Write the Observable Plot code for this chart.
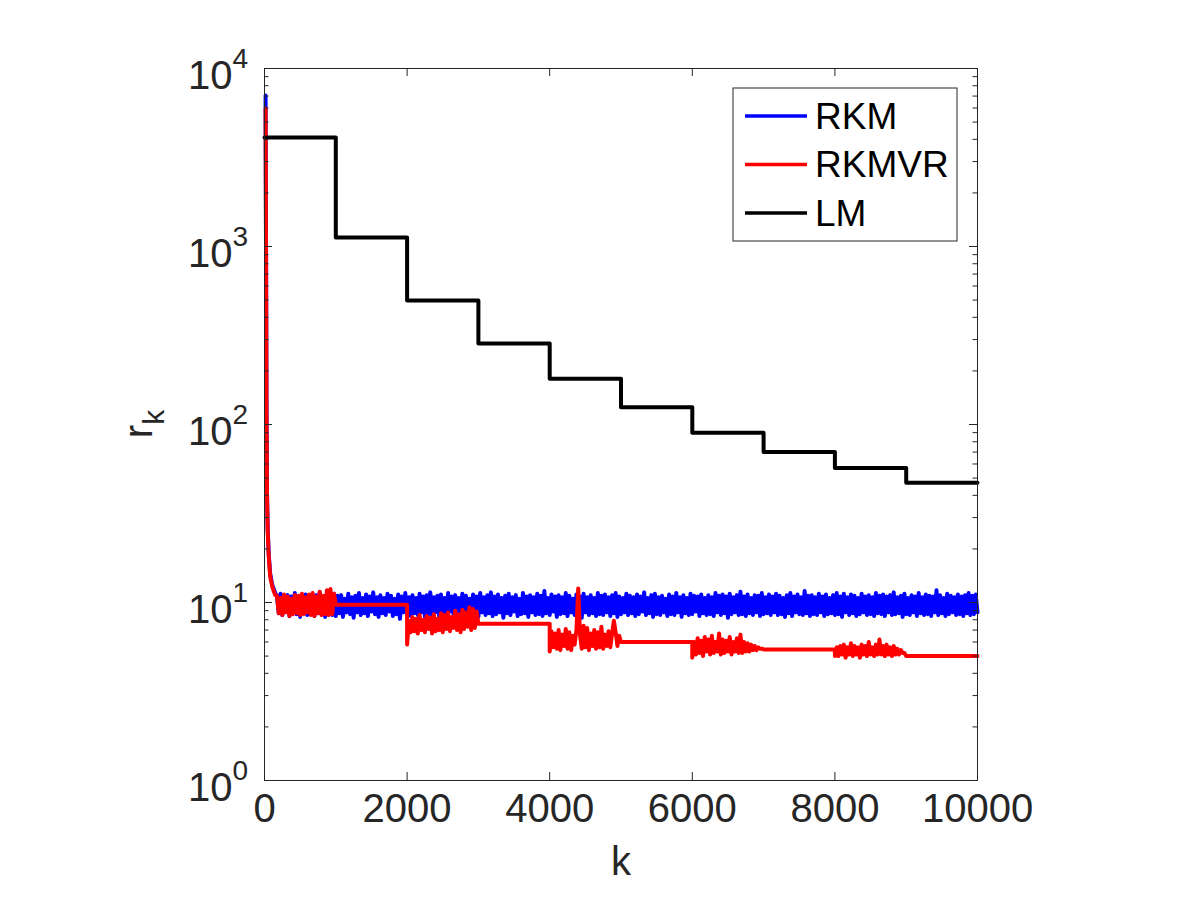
<!DOCTYPE html>
<html>
<head>
<meta charset="utf-8">
<script src="https://cdn.jsdelivr.net/npm/d3@7"></script>
<script src="https://cdn.jsdelivr.net/npm/@observablehq/plot@0.6"></script>
<style>
  html, body { margin: 0; padding: 0; background: #ffffff; overflow: hidden; }
</style>
</head>
<body>
<div id="chart"></div>
<script>
// ---------------- data ----------------
const seriesNames = ["RKM", "RKMVR", "LM"];
const seriesColors = ["#0000ff", "#ff0000", "#000000"];

const xTicks = [0, 2000, 4000, 6000, 8000, 10000];
const yTicks = [1, 10, 100, 1000, 10000];
const yMinorTicks = [2,3,4,5,6,7,8,9,20,30,40,50,60,70,80,90,200,300,400,500,600,700,800,900,2000,3000,4000,5000,6000,7000,8000,9000];

// LM: step function, one value per 1000 iterations (last value repeated at k=10000)
const lmK = [0, 1000, 2000, 3000, 4000, 5000, 6000, 7000, 8000, 9000, 10000];
const lmR = [4100, 1125, 498, 285, 181, 125, 90, 70, 57, 47, 47];

// initial fast decrease (shared k positions)
const headK = [15, 22, 28, 35, 45, 60, 80, 110, 150];
const rkmHeadR = [7050, 900, 130, 42, 26, 18.5, 14.5, 12.5, 11.3];
const rkmvrHeadR = [5960, 800, 120, 40, 25, 18, 14, 12.2, 11];

// noisy parts sampled every 25 iterations
const noiseStep = 25;
const rkmNoiseStartK = 175;
const rkmNoise = [
10.9,8.7,11.2,8.5,10.6,8.9,11.0,8.4,10.8,8.8,11.3,8.6,10.5,8.3,10.9,8.9,11.1,8.5,10.7,8.8,
10.4,8.4,11.0,8.7,11.4,8.6,10.8,8.3,11.1,8.9,10.6,8.5,11.2,8.4,10.9,8.7,11.0,8.3,10.5,8.8,
11.2,8.6,10.7,8.2,10.9,8.8,11.3,8.5,10.6,8.7,11.1,8.4,10.8,8.9,11.4,8.6,10.7,8.3,11.0,8.7,
10.6,8.5,11.2,8.9,10.9,8.4,10.5,8.6,11.1,8.1,10.8,8.8,11.3,8.6,10.7,8.4,11.0,8.7,10.6,8.5,
11.2,8.8,10.8,8.3,11.0,8.6,11.4,8.5,10.7,8.8,10.9,8.4,11.1,8.7,10.6,8.2,11.3,8.9,10.8,8.6,
11.0,8.5,10.6,8.7,11.2,8.4,10.9,8.8,10.5,8.5,11.1,8.6,10.8,8.3,11.3,8.8,10.7,8.5,11.0,8.7,
11.4,8.4,10.8,8.6,11.1,8.8,10.6,8.2,10.9,8.7,11.2,8.5,10.7,8.9,11.0,8.4,10.5,8.6,11.3,8.7,
10.8,8.3,11.0,8.8,10.7,8.5,11.2,8.6,10.9,8.4,11.6,8.7,10.6,8.5,11.1,8.9,10.8,8.3,11.0,8.6,
10.7,8.7,11.3,8.4,10.9,8.8,10.5,8.5,11.1,8.6,10.8,8.2,11.2,8.8,10.7,8.5,11.0,8.7,10.6,8.4,
11.3,8.6,10.9,8.5,11.1,8.8,10.7,8.4,11.0,8.7,11.3,8.3,10.8,8.6,10.6,8.8,11.2,8.5,10.9,8.7,
10.7,8.4,11.1,8.6,10.8,8.9,11.4,8.5,10.6,8.7,11.0,8.3,11.2,8.6,10.7,8.5,10.9,8.8,10.5,8.4,
11.1,8.6,10.8,8.5,11.3,8.8,10.7,8.3,11.0,8.7,10.6,8.5,11.2,8.6,10.9,8.9,10.8,8.4,11.1,8.7,
10.6,8.5,11.0,8.6,10.7,8.4,11.3,8.8,10.9,8.5,11.1,8.7,10.8,8.2,11.2,8.6,10.7,8.8,11.0,8.5,
11.5,8.6,10.8,8.4,11.1,8.7,10.6,8.5,11.0,8.8,10.9,8.4,11.3,8.6,10.7,8.7,11.1,8.5,10.8,8.8,
11.2,8.5,10.9,8.6,10.6,8.3,11.0,8.7,11.3,8.4,10.8,8.8,11.1,8.6,10.7,8.5,11.6,8.7,10.9,8.4,
11.0,8.6,10.7,8.5,11.2,8.8,10.8,8.4,11.1,8.6,10.6,8.7,11.0,8.5,11.3,8.6,10.8,8.3,11.2,8.8,
10.7,8.5,11.1,8.7,10.9,8.4,10.6,8.6,11.2,8.8,10.8,8.5,11.0,8.6,10.7,8.4,11.3,8.7,10.9,8.6,
11.1,8.4,10.8,8.8,11.0,8.5,11.4,8.6,10.7,8.7,10.9,8.3,11.2,8.6,10.6,8.5,11.0,8.8,10.8,8.4,
11.3,8.7,10.7,8.5,11.1,8.6,10.9,8.4,10.8,8.8,11.7,8.5,11.0,8.7,10.6,8.4,11.2,8.6,10.9,8.8,
10.7,8.5,11.1,8.6,10.8,8.4,11.0,8.7,11.3,8.5,10.9,8.6,11.1,8.8
];

// RKMVR: noisy segment 0 (k 175..975)
const rkmvrSeg0StartK = 175;
const rkmvrSeg0 = [10.9,8.7,10.6,8.5,11.1,8.8,10.8,8.4,10.5,8.6,11.0,8.7,10.9,8.5,11.2,8.6,10.7,8.8,11.1,8.5,11.3,8.4,10.8,8.7,11.5,8.5,10.9,8.6,11.7,8.5,11.9,8.6,11.2];
// plateaus of RKMVR (flat levels on 1000-2000, 3000-4000, 5000-6000, 7000-8000, 9000-10000)
const plateauStartK = [1000, 3000, 5000, 7000, 9000];
const plateauR = [9.7, 7.6, 6.0, 5.45, 5.0];
// noisy segments starting at 2000, 4000, 6000, 8000: first (drop) value, then every 25 from +25 to +975
const segStartK = [2000, 4000, 6000, 8000];
const segDropR = [5.8, 5.3, 4.9, 5.0];
const rkmvrSeg2 = [7.9,6.8,8.3,6.9,8.1,6.7,8.5,7.0,8.0,6.8,8.4,7.1,8.2,6.7,8.6,6.9,8.1,7.0,8.7,6.8,8.5,7.1,8.8,6.9,8.3,7.2,9.0,7.0,8.6,6.8,9.1,7.1,8.8,7.3,9.4,7.0,9.2,7.2,8.9];
const rkmvrSeg4 = [6.9,5.6,6.7,5.5,7.0,5.4,6.6,5.7,7.1,5.5,6.8,5.4,6.5,5.8,7.0,12.0,6.6,5.5,7.4,5.6,7.2,5.4,6.7,5.7,7.0,5.5,6.8,5.6,7.3,5.5,6.6,5.7,6.9,5.6,6.7,7.9,6.8,5.7,6.5];
const rkmvrSeg6 = [6.0,5.1,6.3,5.2,6.1,5.0,6.4,5.3,6.2,5.1,6.5,5.2,6.0,5.3,6.7,5.1,6.2,5.2,6.1,5.3,6.4,5.1,6.0,5.3,6.3,5.2,6.6,5.2,6.0,5.3,5.9,5.3,5.8,5.4,5.7,5.4,5.6,5.5,5.5];
const rkmvrSeg8 = [5.6,5.0,5.7,5.1,5.8,4.9,5.6,5.1,5.9,5.0,5.7,5.1,5.6,4.9,5.8,5.1,5.7,5.0,6.0,5.1,5.6,5.0,5.8,5.1,6.2,5.1,5.7,5.0,5.8,5.1,5.6,5.0,5.7,5.1,5.5,5.1,5.4,5.2,5.2];

// ---------------- build point tables ----------------
const rkm = [];
headK.forEach((k, i) => rkm.push({k, r: rkmHeadR[i]}));
rkmNoise.forEach((r, i) => rkm.push({k: rkmNoiseStartK + i * noiseStep, r}));

const rkmvr = [];
headK.forEach((k, i) => rkmvr.push({k, r: rkmvrHeadR[i]}));
rkmvrSeg0.forEach((r, i) => rkmvr.push({k: rkmvrSeg0StartK + i * noiseStep, r}));
const segs = [rkmvrSeg2, rkmvrSeg4, rkmvrSeg6, rkmvrSeg8];
plateauStartK.forEach((k0, p) => {
  rkmvr.push({k: k0, r: plateauR[p]});
  if (p < segs.length) {
    const s0 = segStartK[p];
    rkmvr.push({k: s0, r: plateauR[p]});
    rkmvr.push({k: s0, r: segDropR[p]});
    segs[p].forEach((r, i) => rkmvr.push({k: s0 + (i + 1) * noiseStep, r}));
  } else {
    rkmvr.push({k: 10000, r: plateauR[p]});
  }
});

const lm = lmK.map((k, i) => ({k, r: lmR[i]}));

// ---------------- plot ----------------
const ink = "#262626";
const W = 1200, H = 900, ML = 264, MR = 223, MT = 68, MB = 120;
const FW = W - ML - MR, FH = H - MT - MB;
const majorLen = 8, minorLen = 4.5;

const chart = Plot.plot({
  width: W, height: H,
  marginLeft: ML, marginRight: MR, marginTop: MT, marginBottom: MB,
  style: {fontFamily: "'Liberation Sans', Arial, Helvetica, sans-serif", background: "#ffffff", color: ink},
  x: {domain: [0, 10000], axis: null},
  y: {type: "log", domain: [1, 10000], axis: null},
  marks: [
    // data lines
    Plot.line(rkm, {x: "k", y: "r", stroke: seriesColors[0], strokeWidth: 4, strokeLinejoin: "round"}),
    Plot.line(rkmvr, {x: "k", y: "r", stroke: seriesColors[1], strokeWidth: 4, strokeLinejoin: "round"}),
    Plot.line(lm, {x: "k", y: "r", stroke: seriesColors[2], strokeWidth: 4, curve: "step-after"}),
    // box
    Plot.frame({stroke: ink, strokeWidth: 1}),
    // inner ticks
    Plot.tickX(xTicks, {x: d => d, stroke: ink, insetTop: FH - majorLen}),
    Plot.tickX(xTicks, {x: d => d, stroke: ink, insetBottom: FH - majorLen}),
    Plot.tickY(yTicks, {y: d => d, stroke: ink, insetRight: FW - majorLen}),
    Plot.tickY(yTicks, {y: d => d, stroke: ink, insetLeft: FW - majorLen}),
    Plot.tickY(yMinorTicks, {y: d => d, stroke: ink, insetRight: FW - minorLen}),
    Plot.tickY(yMinorTicks, {y: d => d, stroke: ink, insetLeft: FW - minorLen}),
    // tick labels
    Plot.text(xTicks, {x: d => d, frameAnchor: "bottom", dy: 41, text: d => String(d), fontSize: 40, fill: ink}),
    Plot.text(yTicks, {y: d => d, frameAnchor: "left", dx: -32, dy: 8, textAnchor: "end", text: () => "10", fontSize: 40, fill: ink}),
    Plot.text(yTicks, {y: d => d, frameAnchor: "left", dx: -32, dy: -9, textAnchor: "start", text: d => String(Math.round(Math.log10(d))), fontSize: 28, fill: ink}),
    // x label
    Plot.text(["k"], {frameAnchor: "bottom", dy: 94, text: d => d, fontSize: 40, fill: ink})
  ]
});

document.getElementById("chart").appendChild(chart);

// y label r_k (rotated, with subscript)
const svg = d3.select(chart);
const ylab = svg.append("text")
  .attr("transform", `translate(152, ${MT + FH / 2}) rotate(-90)`)
  .attr("text-anchor", "middle")
  .attr("fill", ink)
  .attr("font-size", 40);
ylab.append("tspan").text("r");
ylab.append("tspan").attr("dy", 12).attr("font-size", 30).text("k");

// legend box
const lg = svg.append("g").attr("class", "legend");
lg.append("rect").attr("x", 733).attr("y", 88).attr("width", 224).attr("height", 153)
  .attr("fill", "#ffffff").attr("stroke", ink).attr("stroke-width", 1);
seriesNames.forEach((name, i) => {
  const y = 116 + i * 48.5;
  lg.append("line").attr("x1", 745).attr("x2", 807).attr("y1", y).attr("y2", y)
    .attr("stroke", seriesColors[i]).attr("stroke-width", 3.5);
  lg.append("text").attr("x", 815).attr("y", y).attr("dy", "0.35em")
    .attr("text-anchor", "start")
    .attr("font-size", 37).attr("fill", "#000000").text(name);
});
</script>
</body>
</html>
